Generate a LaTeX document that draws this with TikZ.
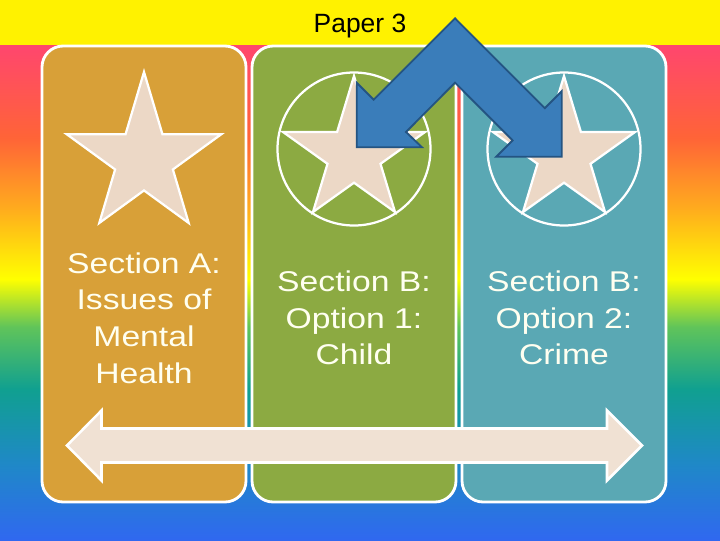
\documentclass[tikz,border=0pt]{standalone}
\usepackage{fontspec}
\setmainfont{Liberation Sans}
\newfontfamily\panelfont[FakeStretch=1.18]{Liberation Sans}
\definecolor{panelA}{RGB}{216,160,56}
\definecolor{panelB}{RGB}{140,170,66}
\definecolor{panelC}{RGB}{90,168,180}
\definecolor{starbeige}{RGB}{236,216,198}
\definecolor{barbeige}{RGB}{240,225,211}
\definecolor{chevblue}{RGB}{58,125,186}
\definecolor{chevedge}{RGB}{36,84,130}
\definecolor{cream}{RGB}{255,255,240}
% path spans 25bp..75bp of the shading
\pgfdeclareverticalshading{rainbowbg}{100bp}{
  rgb(0bp)=(0.188,0.408,0.941);
  rgb(25bp)=(0.188,0.408,0.941);
  rgb(32.58bp)=(0.122,0.533,0.784);
  rgb(40.25bp)=(0.063,0.627,0.565);
  rgb(46.52bp)=(0.376,0.769,0.353);
  rgb(51.36bp)=(1,1,0);
  rgb(58.64bp)=(1,0.667,0.118);
  rgb(65.61bp)=(1,0.392,0.216);
  rgb(75bp)=(1,0.275,0.431);
  rgb(100bp)=(1,0.275,0.431)}
\tikzset{
  panel/.style={draw=white, line width=2pt, rounded corners=15pt},
  ring/.style={draw=white, line width=1.6pt},
  starbody/.style={draw=white, fill=starbeige, line width=1.6pt, line join=miter},
  chevron/.style={draw=chevedge, fill=chevblue, line width=1.3pt, line join=miter},
  bar/.style={draw=white, fill=barbeige, line width=1.8pt, line join=miter},
  title/.style={anchor=base, inner sep=0pt, font=\fontsize{18.8}{22}\selectfont},
  paneltext/.style={text=cream, align=center, inner sep=0pt, font=\panelfont\fontsize{20.3}{26}\selectfont},
  bigstar/.pic={\draw[starbody] (0,0) -- (16.9,56) -- (71,56) -- (26.5,87.8) -- (41,136) -- (0,106.7)
      -- (-41,136) -- (-26.5,87.8) -- (-71,56) -- (-16.9,56) -- cycle;}
}
\begin{document}
\begin{tikzpicture}[x=0.025cm, y=-0.025cm, line join=round]
\useasboundingbox (0,0) rectangle (720,540);
% background
\fill[shading=rainbowbg] (0,45) rectangle (720,540);
\fill[yellow] (0,0) rectangle (720,45);
\node[title] (paper) at (360,32) {Paper 3};
% panels
\foreach \x/\col in {42/panelA,252/panelB,462/panelC}
  \draw[panel, fill=\col] (\x,46) rectangle ++(204,456);
% stars
\pic[xscale=1.09, yscale=1.11] at (144,72) {bigstar};
\foreach \x in {354,564} {
  \draw[ring] (\x,149) circle (76.5);
  \pic at (\x,76) {bigstar};
}
\node[paneltext] (secA) at (144,318) {Section A:\\Issues of\\Mental\\Health};
\node[paneltext] (optA) at (354,318) {Section B:\\Option 1:\\Child};
\node[paneltext] (optB) at (564,318) {Section B:\\Option 2:\\Crime};
% arrows
\draw[chevron] (356.7,147.3) -- (356.7,82.7) -- (373.7,99.7) -- (455,18.3) -- (544.8,108.2)
  -- (561.7,91.3) -- (561.7,156.7) -- (496.3,156.7) -- (512.6,140.4) -- (455,82.7)
  -- (406,132) -- (422,147.3) -- cycle;
\draw[bar] (67,445.5) -- (101.5,410.5) -- (101.5,428.5) -- (607,428.5) -- (607,410.5) -- (642,445.5)
  -- (607,480.5) -- (607,462.5) -- (101.5,462.5) -- (101.5,480.5) -- cycle;
\end{tikzpicture}
\end{document}
